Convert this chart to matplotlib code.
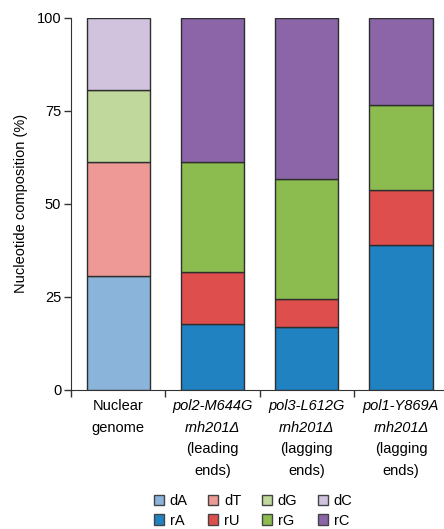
import matplotlib
matplotlib.use("Agg")
import matplotlib.pyplot as plt
from matplotlib.patches import Patch
from matplotlib.transforms import blended_transform_factory

plt.rcParams['font.family'] = ['Liberation Sans', 'DejaVu Sans']

# ---- data ----
categories = ["Nuclear genome", "pol2-M644G rnh201Δ", "pol3-L612G rnh201Δ", "pol1-Y869A rnh201Δ"]
# each label line with whether it is italic
label_lines = [
    [("Nuclear", False), ("genome", False)],
    [("pol2-M644G", True), ("rnh201Δ", True), ("(leading", False), ("ends)", False)],
    [("pol3-L612G", True), ("rnh201Δ", True), ("(lagging", False), ("ends)", False)],
    [("pol1-Y869A", True), ("rnh201Δ", True), ("(lagging", False), ("ends)", False)],
]

# nuclear genome composition (bar 0 only)
dA = [30.6, 0, 0, 0]
dT = [30.8, 0, 0, 0]
dG = [19.2, 0, 0, 0]
dC = [19.4, 0, 0, 0]
# ribonucleotide composition (bars 1-3)
rA = [0, 17.6, 16.9, 38.9]
rU = [0, 14.0, 7.6, 14.9]
rG = [0, 29.8, 32.2, 22.8]
rC = [0, 38.6, 43.3, 23.4]

series_names = ["dA", "dT", "dG", "dC", "rA", "rU", "rG", "rC"]
series_vals = [dA, dT, dG, dC, rA, rU, rG, rC]
colors = {"dA": "#8ab4d9", "dT": "#ee9995", "dG": "#c0d89c", "dC": "#d1c3de",
          "rA": "#2182c1", "rU": "#dd4e4c", "rG": "#8cbc50", "rC": "#8b65a8"}
yticks = [0, 25, 50, 75, 100]

fig = plt.figure(figsize=(4.44, 5.29), dpi=100)
ax = fig.add_axes([0.16, 0.263, 0.86, 0.703])

x = list(range(len(categories)))
bottoms = [0.0] * len(categories)
for name, vals in zip(series_names, series_vals):
    xs = [xi for xi, v in zip(x, vals) if v > 0]
    hs = [v for v in vals if v > 0]
    bs = [b for b, v in zip(bottoms, vals) if v > 0]
    ax.bar(xs, hs, bottom=bs, width=0.67, color=colors[name],
           edgecolor="#2e2e2e", linewidth=1.0, zorder=3)
    bottoms = [b + v for b, v in zip(bottoms, vals)]

ax.set_ylim(0, 100)
ax.set_xlim(-0.5, 3.55)
ax.set_yticks(yticks)
ax.set_yticklabels([str(t) for t in yticks], fontsize=10.5)
ax.set_xticks([i - 0.5 for i in x])
ax.set_xticklabels([])
ax.tick_params(axis='both', direction='out', length=5, width=1, color='#333333', pad=2)
for s in ["top", "right"]:
    ax.spines[s].set_visible(False)
ax.spines["left"].set_color('#333333')
ax.spines["bottom"].set_color('#333333')
ax.set_ylabel("Nucleotide composition (%)", fontsize=10.5, labelpad=6)

trans = blended_transform_factory(ax.transData, ax.transAxes)
first_baseline = -14.8  # points below axis
line_step = 15.4
for i in x:
    for k, (txt, it) in enumerate(label_lines[i]):
        ax.annotate(txt, xy=(i, 0), xycoords=trans,
                    xytext=(0, first_baseline - k * line_step),
                    textcoords='offset points', ha='center', va='baseline',
                    fontsize=10.5, style='italic' if it else 'normal',
                    annotation_clip=False)

order = ["dA", "rA", "dT", "rU", "dG", "rG", "dC", "rC"]
handles = [Patch(facecolor=colors[n], edgecolor="#444444", linewidth=1.0, label=n) for n in order]
fig.legend(handles=handles, ncol=4, loc='center', bbox_to_anchor=(0.57, 0.0345),
           frameon=False, fontsize=10.5, handlelength=0.7, handleheight=0.7,
           handletextpad=0.4, columnspacing=1.4, labelspacing=0.4, borderpad=0)

fig.savefig("out.png", dpi=100)
